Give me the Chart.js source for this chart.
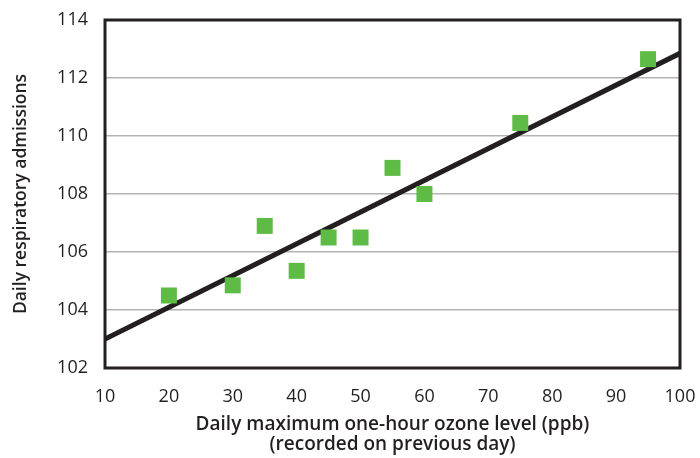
<!DOCTYPE html>
<html>
<head>
<meta charset="utf-8">
<script src="https://cdn.jsdelivr.net/npm/chart.js@4/dist/chart.umd.min.js"></script>
<style>
  html, body { margin: 0; padding: 0; background: #ffffff; }
  #wrap { width: 700px; height: 458px; position: relative; }
</style>
</head>
<body>
<div id="wrap"><canvas id="c" width="700" height="458"></canvas></div>
<script>
const ozoneLevels = [20, 30, 35, 40, 45, 50, 55, 60, 75, 95];
const admissions = [104.5, 104.85, 106.9, 105.35, 106.5, 106.5, 108.9, 108.0, 110.45, 112.65];
const trendX = [10, 100];
const trendY = [103.0, 112.85];
const xTicks = [10, 20, 30, 40, 50, 60, 70, 80, 90, 100];
const yTicks = [102, 104, 106, 108, 110, 112, 114];
const xTitle = ['Daily maximum one-hour ozone level (ppb)', '(recorded on previous day)'];
const yTitle = 'Daily respiratory admissions';

const FONT = '"Open Sans", "DejaVu Sans", sans-serif';

const framePlugin = {
  id: 'frame',
  beforeDatasetsDraw(chart) {
    const a = chart.chartArea, ctx = chart.ctx;
    ctx.save();
    ctx.strokeStyle = '#231f20';
    ctx.lineWidth = 3;
    ctx.strokeRect(a.left, a.top, a.right - a.left, a.bottom - a.top);
    ctx.restore();
  }
};

new Chart(document.getElementById('c'), {
  data: {
    datasets: [
      {
        type: 'line',
        data: trendX.map((x, i) => ({ x: x, y: trendY[i] })),
        borderColor: '#231f20',
        borderWidth: 5,
        pointRadius: 0,
        fill: false,
        order: 2
      },
      {
        type: 'scatter',
        data: ozoneLevels.map((x, i) => ({ x: x, y: admissions[i] })),
        backgroundColor: '#5dbb46',
        borderWidth: 0,
        pointStyle: 'rect',
        pointRadius: 11.3,
        order: 1
      }
    ]
  },
  options: {
    responsive: false,
    animation: false,
    layout: { padding: { top: 20, right: 20, left: 0, bottom: 0 } },
    plugins: { legend: { display: false }, tooltip: { enabled: false } },
    scales: {
      x: {
        type: 'linear',
        min: 10, max: 100,
        afterBuildTicks(s) { s.ticks = xTicks.map(v => ({ value: v })); },
        afterFit(s) { s.height = 90; s.paddingLeft = 0; s.paddingRight = 0; },
        grid: { display: false, drawTicks: false },
        border: { display: false },
        ticks: { color: '#231f20', padding: 18, maxRotation: 0, font: { family: FONT, size: 18 } },
        title: { display: true, text: xTitle, color: '#231f20', padding: { top: 0, bottom: 3 },
                 font: { family: FONT, size: 19, weight: '600', lineHeight: 1.05 } }
      },
      y: {
        type: 'linear',
        min: 102, max: 114,
        afterBuildTicks(s) { s.ticks = yTicks.map(v => ({ value: v })); },
        afterFit(s) { s.width = 105; s.paddingTop = 0; s.paddingBottom = 0; },
        grid: {
          drawTicks: false,
          lineWidth: 1.5,
          color: ctx => (ctx.tick && (ctx.tick.value === 102 || ctx.tick.value === 114)) ? 'rgba(0,0,0,0)' : '#b3b3b3'
        },
        border: { display: false },
        ticks: { color: '#231f20', padding: 17, font: { family: FONT, size: 18 } },
        title: { display: true, text: yTitle, color: '#231f20', padding: { top: 12, bottom: 0 },
                 font: { family: FONT, size: 17.5, weight: '600', lineHeight: 1.05 } }
      }
    }
  },
  plugins: [framePlugin]
});
</script>
</body>
</html>
